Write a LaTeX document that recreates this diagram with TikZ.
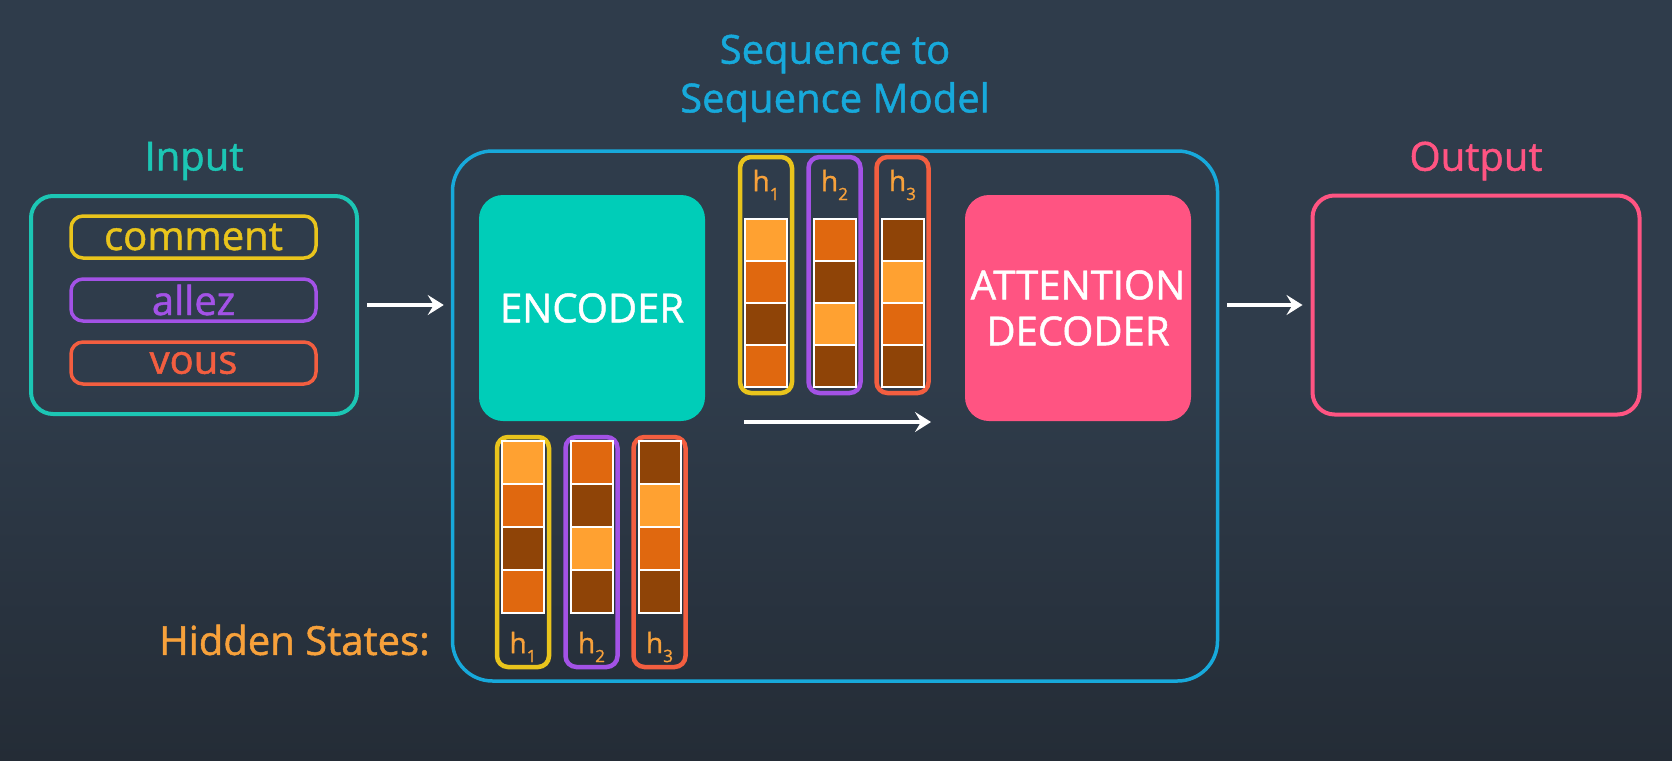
\documentclass[tikz,border=0pt]{standalone}
\usepackage{fontspec}
\setmainfont{Open Sans}[RawFeature={embolden=1.2}]
\usetikzlibrary{arrows.meta,positioning}
\definecolor{bgtop}{HTML}{2F3C4B}
\definecolor{bgbot}{HTML}{242C36}
\definecolor{teal}{HTML}{1CC6B4}
\definecolor{encfill}{HTML}{00CDB8}
\definecolor{ylw}{HTML}{E9C41C}
\definecolor{prp}{HTML}{A352E6}
\definecolor{rdo}{HTML}{F35E40}
\definecolor{pnk}{HTML}{FF5482}
\definecolor{blu}{HTML}{17A9DB}
\definecolor{otx}{HTML}{F7A13B}
\definecolor{clight}{HTML}{FFA131}
\definecolor{cmid}{HTML}{E0680F}
\definecolor{cdark}{HTML}{8F4407}
\tikzset{
  box/.style={draw, line width=4pt, rounded corners=22pt, inner sep=0pt},
  pill/.style={draw, line width=3.5pt, rounded corners=12pt, minimum width=245pt, minimum height=42pt, inner sep=0pt, font=\fontsize{40}{42}\selectfont},
  solid box/.style={rounded corners=24pt, minimum width=226pt, minimum height=226pt, inner sep=0pt, text=white, align=center, font=\fontsize{40}{46}\selectfont},
  col/.style={draw, line width=4.5pt, rounded corners=11pt, minimum width=52pt, inner sep=0pt},
  cell/.style={draw=white, line width=2pt, minimum width=42pt, minimum height=42pt, inner sep=0pt},
  hlab/.style={text=otx, font=\fontsize{28}{29}\selectfont, inner sep=0pt},
  lbl/.style={font=\fontsize{40}{42}\selectfont, inner sep=0pt},
  arr/.style={draw=white, line width=3.5pt, -{Stealth[length=16pt,width=20pt,inset=6pt]}},
}
\newcommand\hsub[1]{h\raisebox{-9pt}{\fontsize{17}{18}\selectfont #1}}
\begin{document}
\begin{tikzpicture}[x=1pt,y=-1pt]
\shade[top color=bgtop, bottom color=bgbot, middle color=bgtop] (0,0) rectangle (1672,760);
\useasboundingbox (0,0) rectangle (1672,760);

% titles
\node[lbl, text=blu] (t1) at (835,54) {Sequence to};
\node[lbl, text=blu] (t2) at (835,102) {Sequence Model};
\node[lbl, text=teal] (lin) at (194,161) {Input};
\node[lbl, text=pnk] (lout) at (1476,161) {Output};

% input
\node[box, draw=teal, minimum width=326pt, minimum height=218pt] (in) at (194,305) {};
\node[pill, draw=ylw, text=ylw] (p1) at (193.5,237) {comment};
\node[pill, draw=prp, text=prp] (p2) at (193.5,300) {allez};
\node[pill, draw=rdo, text=rdo] (p3) at (193.5,363) {vous};

% output
\node[box, draw=pnk, minimum width=327pt, minimum height=219pt] (out) at (1476,305) {};

% model box
\node[box, draw=blu, line width=3.5pt, rounded corners=40pt, minimum width=765pt, minimum height=530pt] (model) at (835,416) {};

\node[solid box, fill=encfill] (enc) at (592,308) {ENCODER};
\node[solid box, fill=pnk] (dec) at (1078,308) {ATTENTION\\DECODER};

% top hidden states
\foreach \i/\x/\c/\a/\b/\cc/\d in {1/766/ylw/clight/cmid/cdark/cmid, 2/834.5/prp/cmid/cdark/clight/cdark, 3/902.5/rdo/cdark/clight/cmid/cdark}{
  \node[col, draw=\c, minimum height=236pt] (tc\i) at (\x,275) {};
  \node[hlab] (th\i) at (\x,185) {\hsub{\i}};
  \node[cell, fill=\a] (tca\i) at (\x,240) {};
  \node[cell, fill=\b] (tcb\i) at (\x,282) {};
  \node[cell, fill=\cc] (tcc\i) at (\x,324) {};
  \node[cell, fill=\d] (tcd\i) at (\x,366) {};
}

% bottom hidden states
\foreach \i/\x/\c/\a/\b/\cc/\d in {1/523/ylw/clight/cmid/cdark/cmid, 2/591.5/prp/cmid/cdark/clight/cdark, 3/659.5/rdo/cdark/clight/cmid/cdark}{
  \node[col, draw=\c, minimum height=230pt] (bc\i) at (\x,552) {};
  \node[hlab] (bh\i) at (\x,647) {\hsub{\i}};
  \node[cell, fill=\a, minimum height=43pt] (bca\i) at (\x,462.5) {};
  \node[cell, fill=\b, minimum height=43pt] (bcb\i) at (\x,505.5) {};
  \node[cell, fill=\cc, minimum height=43pt] (bcc\i) at (\x,548.5) {};
  \node[cell, fill=\d, minimum height=43pt] (bcd\i) at (\x,591.5) {};
}

\node[lbl, text=otx, anchor=east] (hs) at (430,640) {Hidden States:};

% arrows
\draw[arr, shorten <=8pt, shorten >=7pt] (in.east) -- (in.east -| model.west);
\draw[arr, shorten <=8pt, shorten >=8pt] (model.east |- out.west) -- (out.west);
\coordinate (a2s) at (744,422);
\coordinate (a2e) at (931,422);
\draw[arr] (a2s) -- (a2e);
\end{tikzpicture}
\end{document}
